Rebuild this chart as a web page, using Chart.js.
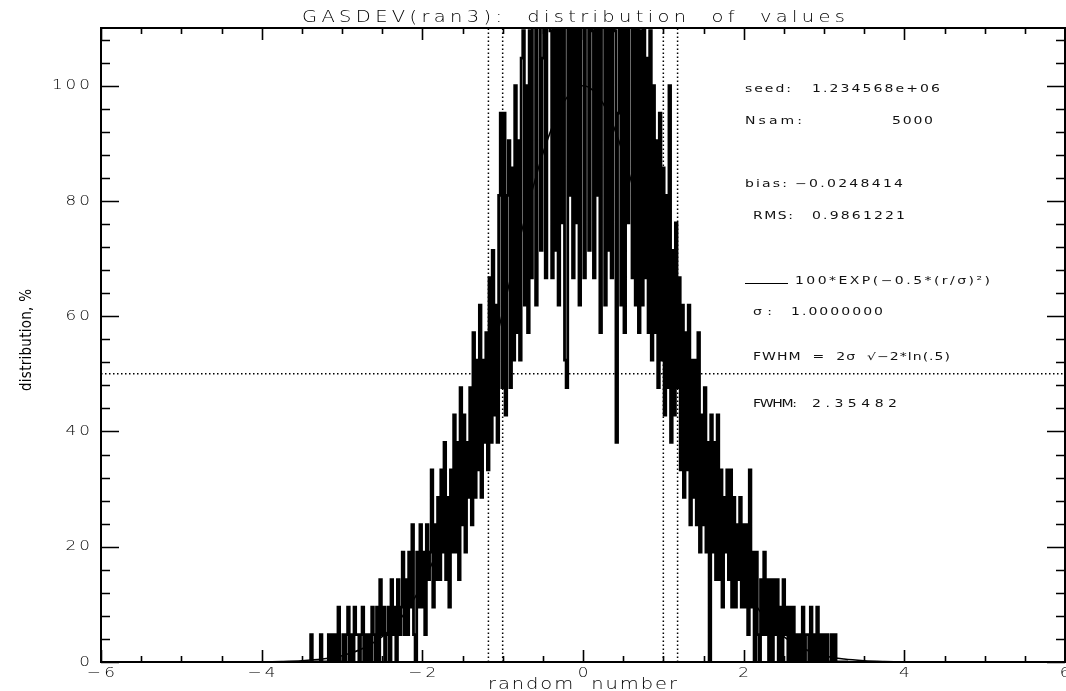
<!DOCTYPE html>
<html>
<head>
<meta charset="utf-8">
<script src="https://cdn.jsdelivr.net/npm/chart.js@4.4.1/dist/chart.umd.min.js"></script>
<style>
  html, body { margin: 0; padding: 0; background: #fff; }
  #wrap { width: 1066px; height: 691px; position: relative; }
</style>
</head>
<body>
<div id="wrap"><canvas id="c"></canvas></div>
<script>
// histogram: counts per bin (each step in the plot is 100/21 %)
const HIST_START = -3.40;
const HIST_STEP = 0.02;
const PCT_PER_COUNT = 100 / 21;
const HIST_COUNTS = [
  0,1,0,0,0,0,0,1,0,0,
  0,0,1,0,1,0,1,0,2,0,
  0,1,0,1,2,0,1,0,2,1,
  1,0,1,2,0,1,0,1,0,2,
  1,0,2,0,3,1,2,0,1,2,
  0,3,1,2,0,3,1,2,4,1,
  3,1,4,2,5,1,0,4,2,5,
  2,4,1,5,3,4,7,2,5,3,
  6,3,7,4,8,3,6,2,7,4,
  9,4,8,3,10,5,9,4,8,6,
  10,5,12,6,11,7,13,6,11,8,
  12,7,14,8,15,9,13,8,17,20,
  10,20,9,17,19,10,18,11,21,12,
  19,11,22,23,13,21,12,23,14,24,
  25,13,24,26,15,22,25,14,24,27,
  23,14,26,15,24,13,28,16,25,11,
  10,24,17,26,14,25,16,26,13,24,
  25,14,24,27,15,24,23,14,28,17,
  26,12,24,27,13,25,15,26,14,25,
  23,8,20,25,13,27,12,24,16,25,
  25,14,24,13,25,12,23,13,24,14,
  22,12,23,11,21,12,19,10,20,11,
  18,9,17,10,21,8,15,9,16,10,
  14,7,13,6,12,7,13,5,11,6,
  11,5,12,4,9,5,10,4,8,0,
  9,4,8,3,9,3,7,2,6,4,
  7,3,7,2,6,2,5,3,6,2,
  5,2,5,1,7,2,4,0,4,1,
  0,3,1,4,1,3,0,3,0,3,
  1,3,0,2,0,3,1,2,0,2,
  0,2,0,1,0,1,0,2,0,1,
  1,0,2,0,1,0,2,0,1,0,
  1,0,1,0,0,1,0,1,0,0,
  0,0,0,0,0,0
];

// smooth reference curve 100*exp(-0.5*(r/sigma)^2), values read at these r
const CURVE_X = [-6, -5, -4.5, -4, -3.75, -3.5, -3.25, -3, -2.75, -2.5, -2.25, -2, -1.75, -1.5, -1.25, -1, -0.75, -0.5, -0.25, 0,
                 0.25, 0.5, 0.75, 1, 1.25, 1.5, 1.75, 2, 2.25, 2.5, 2.75, 3, 3.25, 3.5, 3.75, 4, 4.5, 5, 6];
const CURVE_Y = [0, 0, 0.01, 0.03, 0.09, 0.22, 0.51, 1.1, 2.3, 4.4, 7.9, 13.5, 21.6, 32.5, 45.8, 60.7, 75.5, 88.2, 96.9, 100,
                 96.9, 88.2, 75.5, 60.7, 45.8, 32.5, 21.6, 13.5, 7.9, 4.4, 2.3, 1.1, 0.51, 0.22, 0.09, 0.03, 0.01, 0, 0];

const SIGMA_LINES = [-1, 1];
const FWHM_LINES = [-1.17741, 1.17741];
const HALF_LEVEL = 50;

const X_TICK_VALUES = [-6, -4, -2, 0, 2, 4, 6];
const X_TICK_LABELS = ["\u22126", "\u22124", "\u22122", "0", "2", "4", "6"];
const Y_TICK_VALUES = [0, 20, 40, 60, 80, 100];
const Y_TICK_LABELS = ["0", "20", "40", "60", "80", "100"];

const X_MIN = -6, X_MAX = 6, Y_MIN = 0, Y_MAX = 110;

const FONT = '"DejaVu Sans", "Liberation Sans", sans-serif';

// text drawn char by char, stretched wide with extra spacing (IDL vector font look)
function spaced(ctx, text, x, y, ls, align, sx) {
  const chars = Array.from(text);
  const ws = chars.map(c => ctx.measureText(c).width * sx);
  const total = ws.reduce((s, w) => s + w, 0) + ls * (chars.length - 1);
  let cx = align === "right" ? x - total : align === "center" ? x - total / 2 : x;
  ctx.textAlign = "left";
  chars.forEach((c, i) => {
    ctx.save();
    ctx.translate(cx, y);
    ctx.scale(sx, 1);
    ctx.fillText(c, 0, 0);
    ctx.restore();
    cx += ws[i] + ls;
  });
}
function fitted(ctx, text, x, y, width, align, sx) {
  const chars = Array.from(text);
  const sum = chars.reduce((s, c) => s + ctx.measureText(c).width * sx, 0);
  const ls = chars.length > 1 ? (width - sum) / (chars.length - 1) : 0;
  spaced(ctx, text, x, y, ls, align, sx);
}

const axesAndText = {
  id: "axesAndText",
  afterDraw(chart) {
    const { ctx, chartArea: a, scales: { x, y } } = chart;
    ctx.save();
    ctx.strokeStyle = "#000";
    ctx.lineWidth = 2;
    ctx.strokeRect(a.left, a.top, a.right - a.left, a.bottom - a.top);

    // inward ticks on all four sides
    ctx.lineWidth = 1.6;
    ctx.beginPath();
    for (let v = X_MIN; v <= X_MAX + 1e-9; v += 0.5) {
      const px = Math.round(x.getPixelForValue(v)) + 0.5;
      const len = Math.abs(v % 2) < 1e-9 ? 12 : 6;
      ctx.moveTo(px, a.bottom); ctx.lineTo(px, a.bottom - len);
      ctx.moveTo(px, a.top); ctx.lineTo(px, a.top + len);
    }
    for (let v = Y_MIN; v <= Y_MAX - 1; v += 4) {
      const py = Math.round(y.getPixelForValue(v)) + 0.5;
      const len = v % 20 === 0 ? 18 : 9;
      ctx.moveTo(a.left, py); ctx.lineTo(a.left + len, py);
      ctx.moveTo(a.right, py); ctx.lineTo(a.right - len, py);
    }
    ctx.stroke();

    ctx.fillStyle = "#000";
    ctx.textBaseline = "middle";

    // tick labels
    ctx.font = "300 14px " + FONT;
    X_TICK_VALUES.forEach((v, i) => {
      spaced(ctx, X_TICK_LABELS[i], x.getPixelForValue(v), a.bottom + 11, 3, "center", 1.2);
    });
    Y_TICK_VALUES.forEach((v, i) => {
      spaced(ctx, Y_TICK_LABELS[i], a.left - 11, y.getPixelForValue(v), 3, "right", 1.2);
    });

    // titles
    ctx.font = "300 15px " + FONT;
    fitted(ctx, "GASDEV(ran3):  distribution  of  values", 573.5, 18, 543, "center", 1.3);
    fitted(ctx, "random  number", 582.5, 685, 189, "center", 1.3);

    ctx.save();
    ctx.translate(27, 340);
    ctx.rotate(-Math.PI / 2);
    ctx.font = '15px "Liberation Sans Narrow", "DejaVu Sans Condensed", sans-serif';
    fitted(ctx, "distribution, %", 0, 0, 102, "center", 1);
    ctx.restore();

    // annotation block on the right
    ctx.fillStyle = "#111";
    ctx.font = "10px " + FONT;
    const notes = [
      ["seed:", 745, 89, 46], ["1.234568e+06", 812, 89, 128],
      ["Nsam:", 745, 121, 57], ["5000", 892, 121, 41],
      ["bias:", 745, 184, 42], ["\u22120.0248414", 795, 184, 108],
      ["RMS:", 753, 216, 40], ["0.9861221", 812, 216, 93],
      ["100*EXP(\u22120.5*(r/\u03c3)\u00b2)", 795, 281, 195],
      ["\u03c3:", 753, 312, 19], ["1.0000000", 791, 312, 92],
      ["FWHM  =  2\u03c3  \u221a\u22122*ln(.5)", 753, 357, 197],
      ["FWHM:", 753, 404, 44], ["2.35482", 812, 404, 85]
    ];
    notes.forEach(([t, nx, ny, w]) => fitted(ctx, t, nx, ny, w, "left", 1.4));
    ctx.lineWidth = 1.2;
    ctx.beginPath();
    ctx.moveTo(745, 283.5); ctx.lineTo(788, 283.5);
    ctx.stroke();
    ctx.restore();
  }
};

const dotted = { borderColor: "#000", borderWidth: 1.5, borderDash: [1.5, 2.5], pointRadius: 0, fill: false };

new Chart(document.getElementById("c"), {
  type: "line",
  data: {
    datasets: [
      {
        label: "histogram",
        data: HIST_COUNTS.map((c, i) => ({ x: HIST_START + i * HIST_STEP, y: c * PCT_PER_COUNT })),
        stepped: "middle",
        borderColor: "#000", borderWidth: 2.8, pointRadius: 0, clip: 0
      },
      {
        label: "gauss",
        data: CURVE_X.map((v, i) => ({ x: v, y: CURVE_Y[i] })),
        borderColor: "#000", borderWidth: 1.5, pointRadius: 0,
        cubicInterpolationMode: "monotone", clip: 0
      },
      ...SIGMA_LINES.concat(FWHM_LINES).map(v => ({
        ...dotted, label: "v" + v, data: [{ x: v, y: Y_MIN }, { x: v, y: Y_MAX }]
      })),
      { ...dotted, label: "half", data: [{ x: X_MIN, y: HALF_LEVEL }, { x: X_MAX, y: HALF_LEVEL }] }
    ]
  },
  options: {
    responsive: true, maintainAspectRatio: false, animation: false,
    layout: { padding: { left: 101, right: 1, top: 28, bottom: 29 } },
    plugins: { legend: { display: false }, tooltip: { enabled: false }, title: { display: false } },
    scales: {
      x: { type: "linear", min: X_MIN, max: X_MAX, display: false },
      y: { type: "linear", min: Y_MIN, max: Y_MAX, display: false }
    }
  },
  plugins: [axesAndText]
});
</script>
</body>
</html>
